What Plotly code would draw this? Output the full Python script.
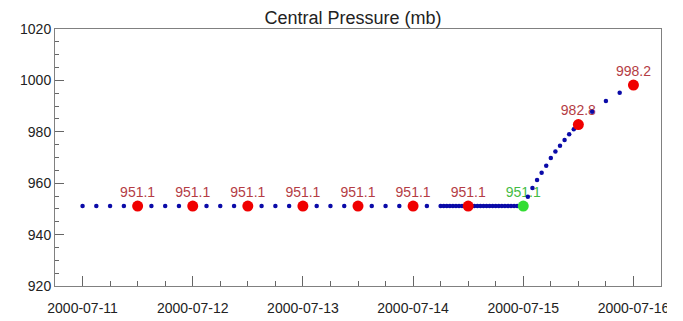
import pandas as pd
import plotly.graph_objects as go

# ---- data ----
flat_value = 951.1
# 3-hourly track points, 2000-07-11 00:00 .. 2000-07-14 03:00
track3h_start = "2000-07-11 00:00"
track3h_end = "2000-07-14 03:00"
# dense track points, 2000-07-14 06:00 .. 2000-07-15 00:00
dense_start = "2000-07-14 06:00"
dense_end = "2000-07-15 00:00"
# rising segment (hourly then 3-hourly)
rise_times = ["2000-07-15 01:00", "2000-07-15 02:00", "2000-07-15 03:00", "2000-07-15 04:00",
              "2000-07-15 05:00", "2000-07-15 06:00", "2000-07-15 07:00", "2000-07-15 08:00",
              "2000-07-15 09:00", "2000-07-15 10:00", "2000-07-15 11:00", "2000-07-15 12:00",
              "2000-07-15 15:00", "2000-07-15 18:00", "2000-07-15 21:00"]
rise_values = [954.7, 958.1, 961.2, 964.1, 966.8, 969.8, 972.3, 974.6, 976.8, 979.0, 981.0,
               982.8, 987.8, 992.0, 995.2]

# labelled fixes (red) and current fix (green)
fix_times = ["2000-07-11 12:00", "2000-07-12 00:00", "2000-07-12 12:00", "2000-07-13 00:00",
             "2000-07-13 12:00", "2000-07-14 00:00", "2000-07-14 12:00",
             "2000-07-15 12:00", "2000-07-16 00:00"]
fix_values = [951.1, 951.1, 951.1, 951.1, 951.1, 951.1, 951.1, 982.8, 998.2]
fix_labels = ["951.1", "951.1", "951.1", "951.1", "951.1", "951.1", "951.1", "982.8", "998.2"]
current_time = ["2000-07-15 00:00"]
current_value = [951.1]
current_label = ["951.1"]

title_text = "Central Pressure (mb)"

# ---- build track ----
t3 = list(pd.date_range(track3h_start, track3h_end, freq="3h"))
td = list(pd.date_range(dense_start, dense_end, freq="40min"))
track_x = t3 + td + [pd.Timestamp(t) for t in rise_times]
track_y = [flat_value] * (len(t3) + len(td)) + rise_values

font = "Liberation Sans, Arial, sans-serif"
fig = go.Figure()

# labels first so track dots sit over them (invisible marker sets the text offset)
fig.add_trace(go.Scatter(x=fix_times, y=fix_values, mode="markers+text", text=fix_labels,
                         textposition="top center",
                         marker=dict(size=8, opacity=0),
                         textfont=dict(family=font, size=14, color="#b43c44"),
                         showlegend=False, hoverinfo="skip"))
fig.add_trace(go.Scatter(x=current_time, y=current_value, mode="markers+text", text=current_label,
                         textposition="top center",
                         marker=dict(size=8, opacity=0),
                         textfont=dict(family=font, size=14, color="#44bb44"),
                         showlegend=False, hoverinfo="skip"))
fig.add_trace(go.Scatter(x=track_x, y=track_y, mode="markers",
                         marker=dict(size=4.5, color="#0a0aa8"), showlegend=False))
fig.add_trace(go.Scatter(x=fix_times, y=fix_values, mode="markers",
                         marker=dict(size=11, color="#f00000"), showlegend=False))
fig.add_trace(go.Scatter(x=current_time, y=current_value, mode="markers",
                         marker=dict(size=11, color="#33dd33"), showlegend=False))

# cropped right edge of the original screenshot (frame strip)
edge_shapes = [
    dict(type="rect", xref="paper", yref="paper", x0=1.0098, x1=1.0262, y0=-0.3, y1=1.2,
         fillcolor="white", line=dict(width=0), layer="above"),
    dict(type="rect", xref="paper", yref="paper", x0=1.0262, x1=1.0327, y0=-0.3, y1=1.2,
         fillcolor="#5a5a5a", line=dict(width=0), layer="above"),
    dict(type="rect", xref="paper", yref="paper", x0=1.0327, x1=1.06, y0=-0.3, y1=1.2,
         fillcolor="#e8e8e8", line=dict(width=0), layer="above"),
]

fig.update_layout(
    width=683, height=321,
    margin=dict(l=42, r=30, t=21, b=43),
    paper_bgcolor="white", plot_bgcolor="white",
    font=dict(family=font, size=14, color="#222"),
    title=dict(text=title_text, x=0.505, xanchor="center", y=1 - 10 / 321, yanchor="middle",
               font=dict(family=font, size=18, color="#222")),
    shapes=edge_shapes,
)
fig.update_xaxes(
    type="date", range=["2000-07-10 18:00", "2000-07-16 06:00"],
    tick0="2000-07-11", dtick=86400000, tickformat="%Y-%m-%d",
    ticks="inside", ticklen=10, tickcolor="#666", tickwidth=1,
    minor=dict(dtick=21600000, ticks="inside", ticklen=5, tickcolor="#666", showgrid=False),
    showgrid=False, zeroline=False,
    showline=True, linecolor="#808080", linewidth=1, mirror=True,
    ticklabelstandoff=9,
    tickfont=dict(family=font, size=14, color="#222"),
)
fig.update_yaxes(
    range=[920, 1020], tick0=920, dtick=20,
    ticks="inside", ticklen=9, tickcolor="#666", tickwidth=1,
    minor=dict(dtick=5, ticks="inside", ticklen=4, tickcolor="#666", showgrid=False),
    showgrid=False, zeroline=False,
    showline=True, linecolor="#808080", linewidth=1, mirror=True,
    tickfont=dict(family=font, size=14, color="#222"),
)

fig.write_html("out.html")
